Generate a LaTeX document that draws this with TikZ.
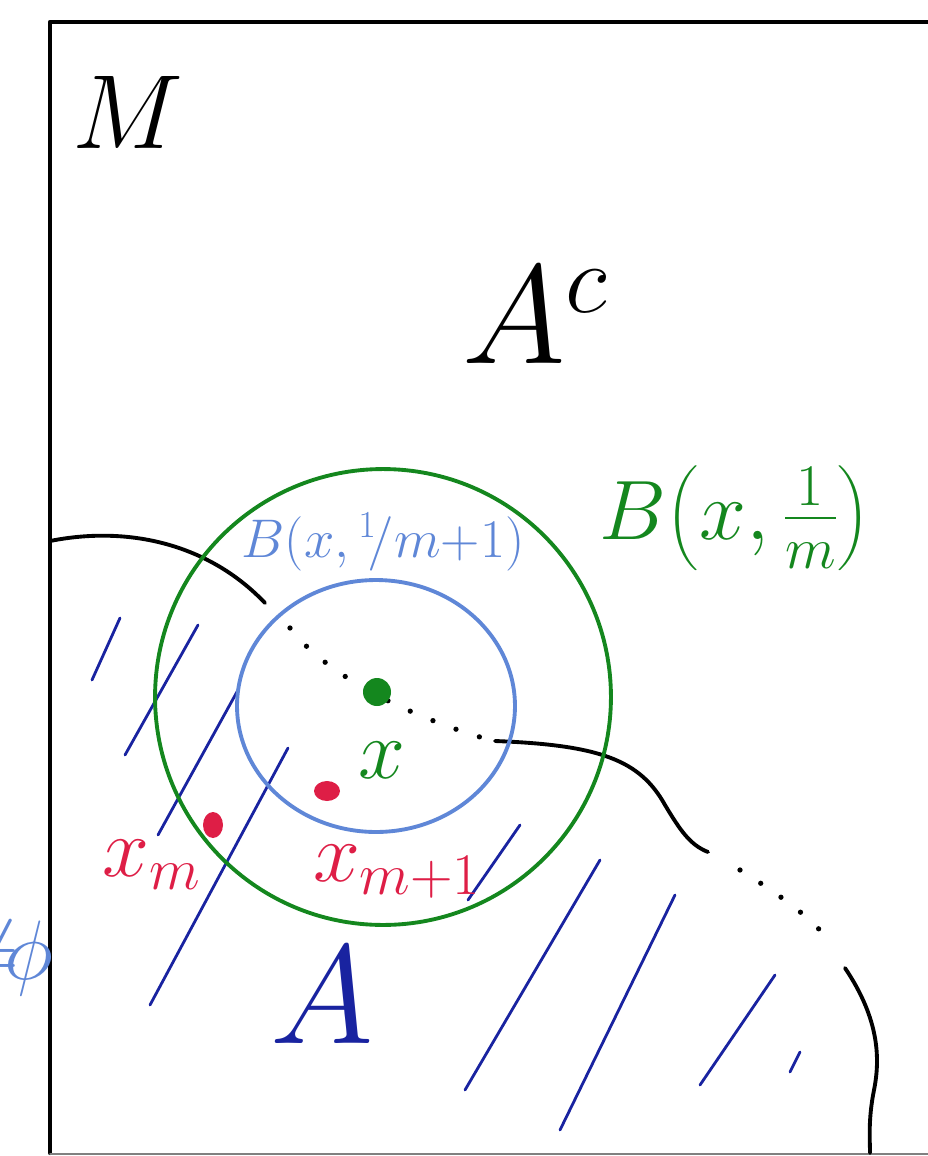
\RequirePackage{fix-cm}
\documentclass[tikz,border=0pt]{standalone}
\usepackage{amsmath}
\usetikzlibrary{calc}

\definecolor{ballgreen}{RGB}{20,135,30}
\definecolor{ballblue}{RGB}{95,135,215}
\definecolor{ptred}{RGB}{222,30,70}
\definecolor{hatchblue}{RGB}{25,35,160}

\begin{document}
\begin{tikzpicture}[x=0.02cm, y=-0.02cm, line cap=round, line join=round,
  pen/.style={line width=2.2pt},
  sparse/.style={line width=3pt, dash pattern=on 0pt off 14pt},
  hatch/.style={hatchblue, line width=1.6pt},
  big/.style={font=\fontsize{80}{84}\selectfont},
  mid/.style={font=\fontsize{48}{52}\selectfont}]
  \useasboundingbox (0,0) rectangle (928,1156);

  % frame of M
  \draw[line width=2.4pt] (50,1153) -- (50,22) -- (935,22);
  \draw[gray, line width=1pt] (50,1154) -- (935,1154);

  % boundary of A: solid, dotted inside the small ball, solid, dotted, solid
  \draw[pen] (50,541) .. controls (130,525) and (210,545) .. (265,603);
  \draw[sparse] (290,628) .. controls (330,680) and (420,720) .. (490,740);
  \draw[pen] (495,741) .. controls (600,745) and (640,760) .. (665,805)
    .. controls (680,830) and (690,845) .. (708,852);
  \draw[sparse] (740,870) .. controls (780,895) and (815,920) .. (832,945);
  \draw[pen] (845,968) .. controls (880,1020) and (880,1060) .. (874,1090)
    .. controls (868,1120) and (870,1140) .. (870,1153);

  % hatching of A
  \foreach \xa/\ya/\xb/\yb in {92/680/120/618, 125/755/198/625, 158/835/238/690,
      150/1005/288/748, 468/900/520/825, 465/1090/600/860, 560/1130/675/895,
      700/1085/775/975, 790/1072/800/1052}
    \draw[hatch] (\xa,\ya) -- (\xb,\yb);

  % balls around x
  \coordinate (x) at (377,692);
  \draw[ballgreen, pen] (383,697) circle[radius=4.56cm];
  \draw[ballblue, pen] (376,706) ellipse[x radius=2.78cm, y radius=2.52cm];
  \fill[ballgreen] (x) circle[radius=0.28cm];

  % points of the sequence
  \fill[ptred] (213,825) ellipse[x radius=0.2cm, y radius=0.26cm];
  \fill[ptred] (327,791) ellipse[x radius=0.26cm, y radius=0.2cm];

  % labels
  \node[font=\fontsize{60}{64}\selectfont] (M) at (128,112) {$M$};
  \node[big] (Ac) at (535,315) {$A^{c}$};
  \node[big, hatchblue] (A) at (322,995) {$A$};
  \node[mid, ballgreen] (xlab) at (382,760) {$x$};
  \node[mid, ptred] (xm) at (152,865) {$x_m$};
  \node[mid, ptred] (xm1) at (397,872) {$x_{m+1}$};
  \node[ballblue, font=\fontsize{31}{34}\selectfont] (Bsmall) at (383,542)
    {$B(x,{}^{1}\!/m{+}1)$};
  \node[mid, ballgreen] (Bbig) at (735,518)
    {$B\bigl(x,\tfrac{1}{m}\bigr)$};
  \node[mid, ballblue, anchor=east, inner sep=0pt] (neq) at (54,958)
    {${\neq}\!\phi$};
\end{tikzpicture}
\end{document}
